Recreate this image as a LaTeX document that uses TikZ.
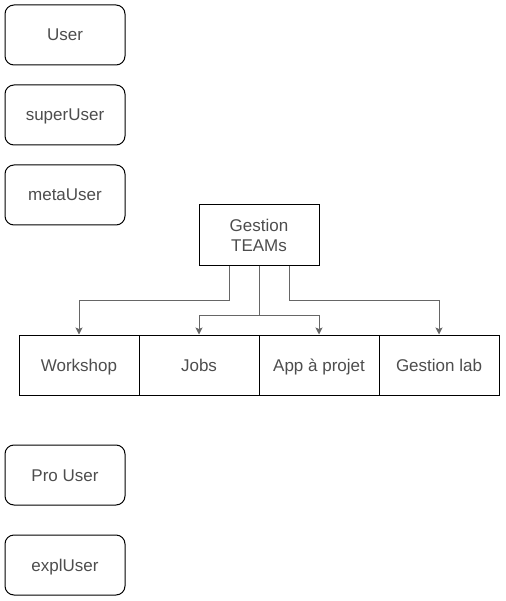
\documentclass[tikz,border=0pt]{standalone}
\usepackage{fontspec}
\setmainfont{Liberation Sans}
\usetikzlibrary{arrows.meta,positioning}
\definecolor{txtgray}{HTML}{4D4D4D}
\definecolor{linegray}{HTML}{666666}
\tikzset{
    %Define standard arrow tip
    >={Stealth[length=7pt,width=7pt,inset=1.5pt]},
    %Define style for boxes
    userbox/.style={
           rectangle,
           rounded corners=9pt,
           draw=black, line width=1pt,
           minimum width=120pt,
           minimum height=60pt,
           font=\fontsize{17}{20}\selectfont,
           text=txtgray,
           text height=12pt, text depth=0pt,
           text centered},
    modbox/.style={
           rectangle,
           draw=black, line width=1pt,
           minimum width=120pt,
           minimum height=60pt,
           font=\fontsize{17}{20}\selectfont,
           text=txtgray,
           text height=12pt, text depth=0pt,
           text centered},
    teambox/.style={
           modbox, text height=, text depth=, align=center},
    % Define arrow style
    pil/.style={
           ->,
           draw=linegray,
           line width=1pt}
}
\begin{document}
\begin{tikzpicture}[x=1pt,y=1pt,node distance=19pt]
\useasboundingbox (0,0) rectangle (505,-601);
\node[userbox](user) at (65,-35){User};
\node[userbox, below=of user](super){superUser};
\node[userbox, below=of super](meta){metaUser};
\node[teambox](team) at (259,-235){Gestion\\TEAMs};

\node[modbox](workshop) at (79,-365){Workshop};
\node[modbox, right=-1pt of workshop](jobs){Jobs};
\node[modbox, right=-1pt of jobs](app){App à projet};
\node[modbox, right=-1pt of app](lab){Gestion lab};

\node[userbox](pro) at (65,-475){Pro User};
\node[userbox, below=29pt of pro](expl){explUser};

\draw[pil] ([xshift=-30pt]team.south) -- ++(0,-35) -| (workshop);
\draw[pil] (team.south) -- ++(0,-50) -| (jobs);
\draw[pil] (team.south) -- ++(0,-50) -| (app);
\draw[pil] ([xshift=30pt]team.south) -- ++(0,-35) -| (lab);

\end{tikzpicture}
\end{document}
